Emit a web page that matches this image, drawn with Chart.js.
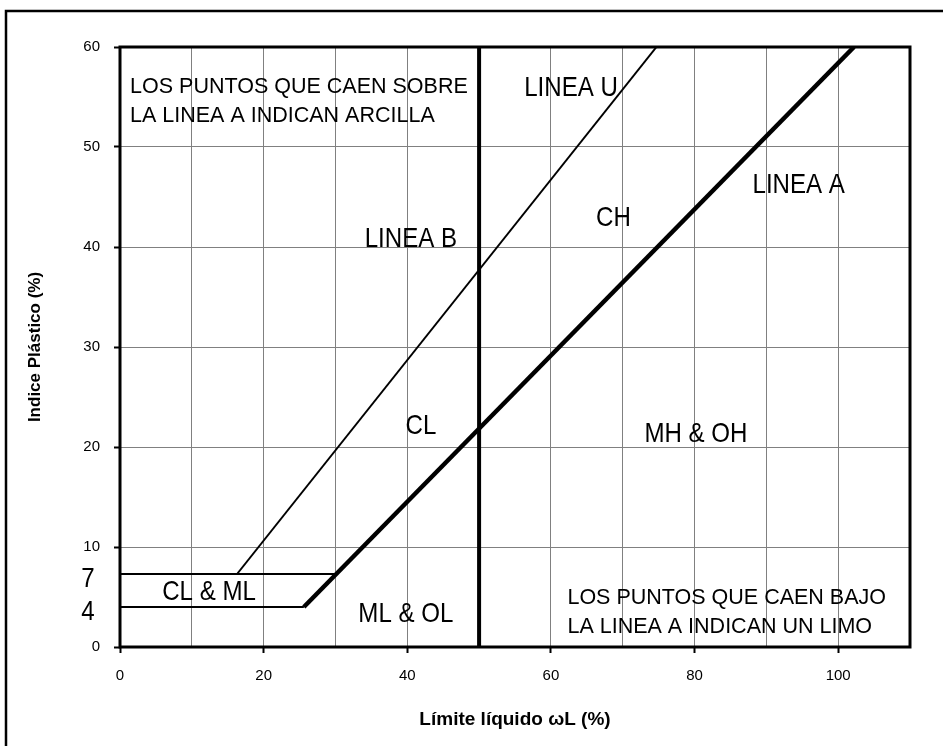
<!DOCTYPE html>
<html lang="es">
<head>
<meta charset="UTF-8">
<script src="https://cdn.jsdelivr.net/npm/chart.js"></script>
<title>Carta de plasticidad</title>
<style>
  html, body { margin: 0; padding: 0; background: #fff; }
  #wrap { width: 943px; height: 746px; }
</style>
</head>
<body>
<div id="wrap"><canvas id="plasticChart"></canvas></div>
<script>
// lines of the plasticity chart: x = límite líquido, y = índice plástico
const lineaA_x = [25.6, 102.2];
const lineaA_y = [4.0, 60];
const lineaU_x = [16.3, 74.7];
const lineaU_y = [7.3, 60];
const lineaB_x = [50, 50];
const lineaB_y = [0, 60];
const linea7_x = [0, 30.0];
const linea7_y = [7.3, 7.3];
const linea4_x = [0, 25.6];
const linea4_y = [4.0, 4.0];

const xTickLabels = [0, 20, 40, 60, 80, 100];
const yTickLabels = [0, 10, 20, 30, 40, 50, 60];

// "7" and "4" written beside the axis at the two horizontal lines
const extraYLabels = ['7', '4'];
const extraYValues = [7.3, 4.0];

// zone names and line names (text, x, y in data units)
const zoneText = ['LINEA U', 'LINEA B', 'CH', 'LINEA A', 'CL', 'MH & OH', 'CL & ML', 'ML & OL'];
const zoneX = [62.8, 40.5, 68.7, 94.5, 41.9, 80.2, 12.4, 39.8];
const zoneY = [55.9, 40.8, 42.9, 46.2, 22.1, 21.3, 5.5, 3.3];

const notes = [
  { lines: ['LOS PUNTOS QUE CAEN SOBRE', 'LA LINEA A INDICAN ARCILLA'], x: 1.4, y: 56.0 },
  { lines: ['LOS PUNTOS QUE CAEN BAJO', 'LA LINEA A INDICAN UN LIMO'], x: 62.3, y: 4.9 }
];

function pts(xs, ys) {
  return xs.map((x, i) => ({ x: x, y: ys[i] }));
}

function lineSet(label, xs, ys, width) {
  return {
    label: label,
    data: pts(xs, ys),
    showLine: true,
    borderColor: '#000',
    backgroundColor: '#000',
    borderWidth: width,
    pointRadius: 0,
    borderCapStyle: 'butt'
  };
}

// condensed text, like the narrow font used on the original
function narrowText(ctx, text, x, y, size, align) {
  ctx.save();
  ctx.font = size + 'px "Liberation Sans", Arial, sans-serif';
  ctx.textBaseline = 'middle';
  ctx.textAlign = align || 'center';
  ctx.translate(x, y);
  ctx.scale(0.86, 1);
  ctx.fillText(text, 0, 0);
  ctx.restore();
}

const overlay = {
  id: 'overlay',
  beforeDraw(chart) {
    const ctx = chart.ctx;
    ctx.save();
    ctx.strokeStyle = '#000';
    ctx.lineWidth = 2.5;
    ctx.beginPath();
    ctx.moveTo(6, 746);
    ctx.lineTo(6, 11);
    ctx.lineTo(943, 11);
    ctx.stroke();
    ctx.restore();
  },
  afterDatasetsDraw(chart) {
    const ctx = chart.ctx;
    const xs = chart.scales.x;
    const ys = chart.scales.y;
    const a = chart.chartArea;

    ctx.save();
    ctx.strokeStyle = '#000';
    ctx.lineWidth = 3;
    ctx.strokeRect(a.left, a.top, a.right - a.left, a.bottom - a.top);

    ctx.fillStyle = '#000';
    zoneText.forEach((t, i) => {
      narrowText(ctx, t, xs.getPixelForValue(zoneX[i]), ys.getPixelForValue(zoneY[i]), 28);
    });

    extraYLabels.forEach((t, i) => {
      narrowText(ctx, t, a.left - 32, ys.getPixelForValue(extraYValues[i]) + 5, 28);
    });

    ctx.font = '21.5px "Liberation Sans", Arial, sans-serif';
    ctx.textAlign = 'left';
    ctx.textBaseline = 'middle';
    notes.forEach(n => {
      const x = xs.getPixelForValue(n.x);
      const y = ys.getPixelForValue(n.y);
      n.lines.forEach((l, k) => ctx.fillText(l, x, y + k * 29));
    });
    ctx.restore();
  }
};

const ctx = document.getElementById('plasticChart').getContext('2d');
new Chart(ctx, {
  type: 'scatter',
  data: {
    datasets: [
      lineSet('Linea A', lineaA_x, lineaA_y, 4.5),
      lineSet('Linea U', lineaU_x, lineaU_y, 2),
      lineSet('Linea B', lineaB_x, lineaB_y, 4),
      lineSet('IP 7', linea7_x, linea7_y, 2),
      lineSet('IP 4', linea4_x, linea4_y, 2)
    ]
  },
  options: {
    responsive: true,
    maintainAspectRatio: false,
    animation: false,
    layout: { padding: { left: 0, top: 47, right: 33, bottom: 0 } },
    plugins: {
      legend: { display: false },
      tooltip: { enabled: false }
    },
    scales: {
      x: {
        type: 'linear',
        min: 0,
        max: 110,
        border: { display: false },
        grid: {
          color: '#808080',
          lineWidth: 1,
          tickLength: 6,
          tickWidth: 2,
          tickColor: c => xTickLabels.includes(c.tick.value) ? '#000' : 'rgba(0,0,0,0)'
        },
        ticks: {
          stepSize: 10,
          maxRotation: 0,
          autoSkip: false,
          padding: 14,
          color: '#000',
          font: { family: '"Liberation Sans", Arial, sans-serif', size: 15 },
          callback: v => xTickLabels.includes(v) ? v : ''
        },
        title: {
          display: true,
          text: 'Límite líquido ωL (%)',
          color: '#000',
          font: { family: '"Liberation Sans", Arial, sans-serif', size: 19, weight: 'bold' },
          padding: { top: 4, bottom: 15 }
        },
        afterFit: s => { s.height = 99; }
      },
      y: {
        type: 'linear',
        min: 0,
        max: 60,
        border: { display: false },
        grid: {
          color: '#808080',
          lineWidth: 1,
          tickLength: 6,
          tickWidth: 2,
          tickColor: '#000'
        },
        ticks: {
          stepSize: 10,
          padding: 14,
          color: '#000',
          font: { family: '"Liberation Sans", Arial, sans-serif', size: 15 },
          callback: v => yTickLabels.includes(v) ? v : ''
        },
        title: {
          display: true,
          text: 'Indice Plástico (%)',
          color: '#000',
          font: { family: '"Liberation Sans", Arial, sans-serif', size: 17, weight: 'bold' },
          padding: { top: 25, bottom: 4 }
        },
        afterFit: s => { s.width = 120; }
      }
    }
  },
  plugins: [overlay]
});
</script>
</body>
</html>
